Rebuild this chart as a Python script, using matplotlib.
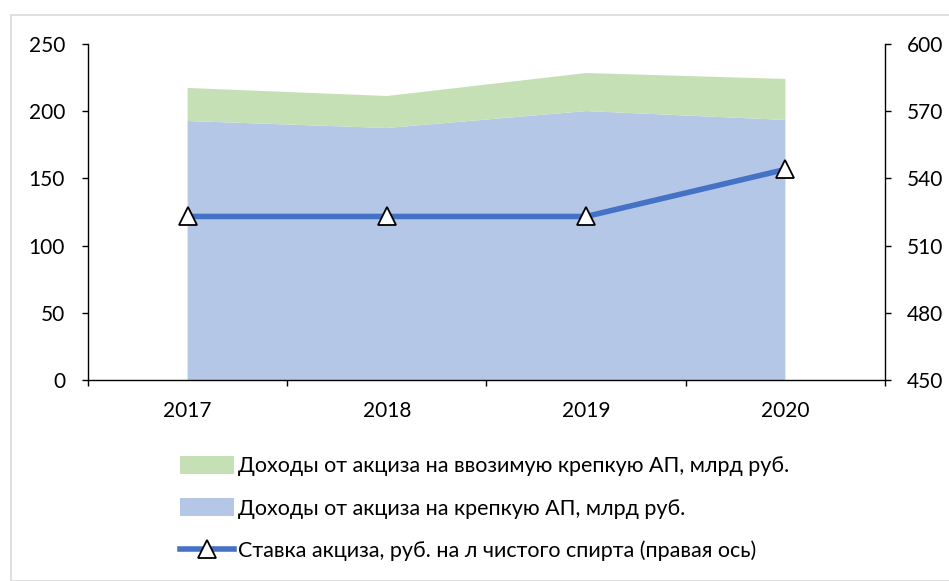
import matplotlib
matplotlib.use("Agg")
import matplotlib.pyplot as plt
from matplotlib.patches import Rectangle, Patch
from matplotlib.lines import Line2D
import numpy as np

years = ["2017", "2018", "2019", "2020"]
domestic = [192.7, 187.5, 200.1, 193.5]
imported = [24.6, 23.8, 28.3, 30.5]
rate = [523, 523, 523, 544]

labels = [
    "Доходы от акциза на ввозимую крепкую АП, млрд руб.",
    "Доходы от акциза на крепкую АП, млрд руб.",
    "Ставка акциза, руб. на л чистого спирта (правая ось)",
]
left_ticks = [0, 50, 100, 150, 200, 250]
right_ticks = [450, 480, 510, 540, 570, 600]

plt.rcParams['font.family'] = ['Lato', 'DejaVu Sans']
W, H = 949, 581
fig = plt.figure(figsize=(W / 100, H / 100), dpi=100)
fig.patches.append(Rectangle((11 / W, 0), 1, 1 - 15 / H, transform=fig.transFigure,
                             fill=False, edgecolor='#D9D9D9', linewidth=1.2))

ax = fig.add_axes([88 / W, 1 - 380 / H, (885 - 88) / W, (380 - 44) / H])
x = np.arange(len(years))
ax.stackplot(x, domestic, imported, colors=['#B4C7E7', '#C5E0B4'], linewidth=0)
ax.set_xlim(-0.5, len(years) - 0.5)
ax.set_ylim(0, 250)
ax.set_yticks(left_ticks)
ax.set_xticks(x)
ax.set_xticklabels(years)
ax.set_xticks(np.arange(-0.5, len(years), 1), minor=True)
ax.tick_params(axis='x', which='major', length=0, pad=15, labelsize=15)
ax.tick_params(axis='x', which='minor', length=4.5, direction='out', width=1)
ax.tick_params(axis='y', length=4.5, width=1, labelsize=15, pad=12)
for s in ['top', 'right']:
    ax.spines[s].set_visible(False)
ax.spines['left'].set_linewidth(1)
ax.spines['bottom'].set_linewidth(1)

ax2 = ax.twinx()
ax2.plot(x, rate, color='#4472C4', linewidth=4, marker='^', markersize=13,
         markerfacecolor='white', markeredgecolor='black', markeredgewidth=1.3, zorder=5)
ax2.set_ylim(450, 600)
ax2.set_yticks(right_ticks)
ax2.tick_params(axis='y', length=4.5, width=1, labelsize=15, pad=11.5)
for s in ['top', 'left', 'bottom']:
    ax2.spines[s].set_visible(False)
ax2.spines['right'].set_linewidth(1)

handles = [
    Patch(facecolor='#C5E0B4', edgecolor='none'),
    Patch(facecolor='#B4C7E7', edgecolor='none'),
    Line2D([0], [0], color='#4472C4', linewidth=4, marker='^', markersize=13,
           markerfacecolor='white', markeredgecolor='black', markeredgewidth=1.3),
]
fig.legend(handles, labels, loc='upper left', bbox_to_anchor=(169 / W, 1 - 445 / H),
           frameon=False, fontsize=15.5, handlelength=2.5, handleheight=0.9,
           handletextpad=0.2, labelspacing=1.03, borderpad=0)

fig.savefig("out.png", dpi=100)
